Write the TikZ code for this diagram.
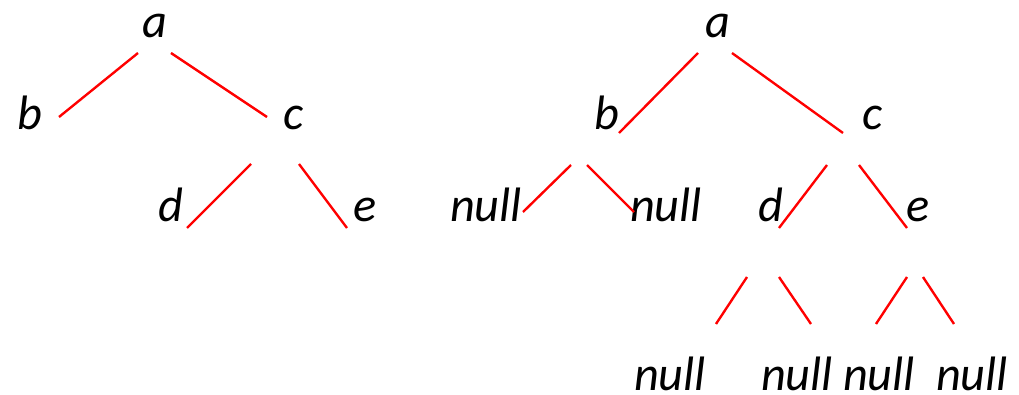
\documentclass[tikz,border=0pt]{standalone}
\usepackage{fontspec}
\setmainfont{Carlito}
\usepackage{tikz}
\tikzset{
    treenode/.style={anchor=base, inner sep=0pt, font=\fontsize{27.5}{33}\selectfont\itshape},
    edge/.style={red, line width=1.35pt},
}

\begin{document}
\begin{tikzpicture}[x=0.02cm, y=-0.02cm]
    \useasboundingbox (0,0) rectangle (1019,395);

    % left tree
    \node[treenode] (la) at (155,38) {a};
    \node[treenode] (lb) at (30,130) {b};
    \node[treenode] (lc) at (294,130) {c};
    \node[treenode] (ld) at (171,222) {d};
    \node[treenode] (le) at (365,222) {e};

    \draw[edge] (138,53) coordinate (lab1) -- (59,117) coordinate (lab2);
    \draw[edge] (171,53) coordinate (lac1) -- (267,117) coordinate (lac2);
    \draw[edge] (251,164) coordinate (lcd1) -- (187,228) coordinate (lcd2);
    \draw[edge] (299,164) coordinate (lce1) -- (347,228) coordinate (lce2);

    % right tree, with the null children
    \node[treenode] (ra) at (718,38) {a};
    \node[treenode] (rb) at (607,130) {b};
    \node[treenode] (rc) at (873,130) {c};
    \node[treenode] (rn1) at (486,222) {null};
    \node[treenode] (rn2) at (666,222) {null};
    \node[treenode] (rd) at (771,222) {d};
    \node[treenode] (re) at (918,222) {e};
    \node[treenode] (rn3) at (670,390) {null};
    \node[treenode] (rn4) at (797,390) {null};
    \node[treenode] (rn5) at (879,390) {null};
    \node[treenode] (rn6) at (972,390) {null};

    \draw[edge] (698,53) coordinate (rab1) -- (619,133) coordinate (rab2);
    \draw[edge] (732,53) coordinate (rac1) -- (843,133) coordinate (rac2);
    \draw[edge] (571,165) coordinate (rbn1) -- (523,212) coordinate (rbn2);
    \draw[edge] (587,165) coordinate (rbm1) -- (634,212) coordinate (rbm2);
    \draw[edge] (827,165) coordinate (rcd1) -- (779,228) coordinate (rcd2);
    \draw[edge] (859,165) coordinate (rce1) -- (907,228) coordinate (rce2);
    \draw[edge] (747,277) coordinate (rdn1) -- (716,324) coordinate (rdn2);
    \draw[edge] (779,277) coordinate (rdm1) -- (811,324) coordinate (rdm2);
    \draw[edge] (907,277) coordinate (ren1) -- (876,324) coordinate (ren2);
    \draw[edge] (923,277) coordinate (rem1) -- (954,324) coordinate (rem2);
\end{tikzpicture}
\end{document}
